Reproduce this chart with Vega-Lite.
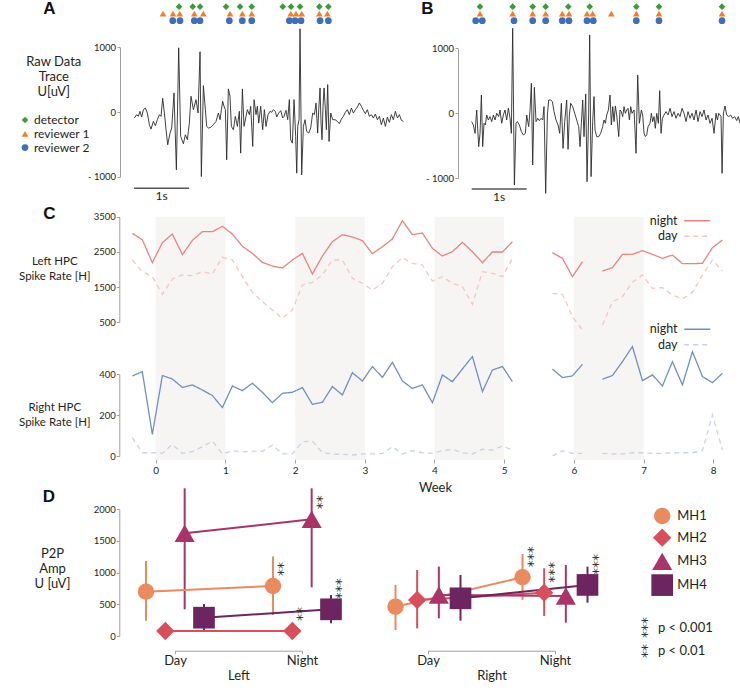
{
"$schema":"https://vega.github.io/schema/vega-lite/v6.json",
"width":740,"height":691,"autosize":{"type":"none"},"padding":0,"background":"#ffffff",
"config":{"font":"Lato","view":{"stroke":null},
 "axis":{"grid":false,"domainColor":"#a0a0a0","tickColor":"#a0a0a0","labelColor":"#231f20","titleColor":"#231f20","labelFont":"Lato","titleFont":"Lato","labelFontSize":9.5,"titleFontWeight":"normal","tickSize":3,"labelPadding":1.5},
 "legend":{"labelFont":"Lato","labelColor":"#231f20","padding":0,"titlePadding":0},
 "text":{"color":"#231f20","font":"Lato"}
},
"datasets":{
"bands":[{"a":0,"b":1},{"a":2,"b":3},{"a":4,"b":5},{"a":6,"b":7}],
"leftRate":[
{"w":-0.335,"v":3027,"p":"night","s":1},{"w":-0.192,"v":2847,"p":"night","s":1},{"w":-0.048,"v":2194,"p":"night","s":1},{"w":0.096,"v":2762,"p":"night","s":1},{"w":0.239,"v":3008,"p":"night","s":1},{"w":0.383,"v":2421,"p":"night","s":1},{"w":0.526,"v":2828,"p":"night","s":1},{"w":0.670,"v":3074,"p":"night","s":1},{"w":0.813,"v":3074,"p":"night","s":1},{"w":0.957,"v":3226,"p":"night","s":1},{"w":1.100,"v":3008,"p":"night","s":1},{"w":1.244,"v":2658,"p":"night","s":1},{"w":1.387,"v":2459,"p":"night","s":1},{"w":1.531,"v":2203,"p":"night","s":1},{"w":1.674,"v":2099,"p":"night","s":1},{"w":1.818,"v":2043,"p":"night","s":1},{"w":1.961,"v":2270,"p":"night","s":1},{"w":2.105,"v":2459,"p":"night","s":1},{"w":2.248,"v":1872,"p":"night","s":1},{"w":2.392,"v":2383,"p":"night","s":1},{"w":2.535,"v":2790,"p":"night","s":1},{"w":2.679,"v":2989,"p":"night","s":1},{"w":2.822,"v":2923,"p":"night","s":1},{"w":2.966,"v":2819,"p":"night","s":1},{"w":3.109,"v":2450,"p":"night","s":1},{"w":3.253,"v":2648,"p":"night","s":1},{"w":3.396,"v":2866,"p":"night","s":1},{"w":3.540,"v":3386,"p":"night","s":1},{"w":3.683,"v":2990,"p":"night","s":1},{"w":3.827,"v":3036,"p":"night","s":1},{"w":3.970,"v":2601,"p":"night","s":1},{"w":4.114,"v":2383,"p":"night","s":1},{"w":4.257,"v":2506,"p":"night","s":1},{"w":4.401,"v":2771,"p":"night","s":1},{"w":4.544,"v":2506,"p":"night","s":1},{"w":4.688,"v":2194,"p":"night","s":1},{"w":4.831,"v":2497,"p":"night","s":1},{"w":4.975,"v":2497,"p":"night","s":1},{"w":5.118,"v":2790,"p":"night","s":1},
{"w":5.692,"v":2478,"p":"night","s":2},{"w":5.836,"v":2317,"p":"night","s":2},{"w":5.979,"v":1796,"p":"night","s":2},{"w":6.123,"v":2222,"p":"night","s":2},
{"w":6.410,"v":1957,"p":"night","s":3},{"w":6.553,"v":2052,"p":"night","s":3},{"w":6.697,"v":2431,"p":"night","s":3},{"w":6.840,"v":2431,"p":"night","s":3},{"w":6.984,"v":2535,"p":"night","s":3},{"w":7.127,"v":2431,"p":"night","s":3},{"w":7.271,"v":2317,"p":"night","s":3},{"w":7.414,"v":2412,"p":"night","s":3},{"w":7.558,"v":2166,"p":"night","s":3},{"w":7.701,"v":2166,"p":"night","s":3},{"w":7.845,"v":2175,"p":"night","s":3},{"w":7.988,"v":2620,"p":"night","s":3},{"w":8.132,"v":2838,"p":"night","s":3},
{"w":-0.335,"v":2270,"p":"day","s":1},{"w":-0.192,"v":1938,"p":"day","s":1},{"w":-0.048,"v":1796,"p":"day","s":1},{"w":0.096,"v":1295,"p":"day","s":1},{"w":0.239,"v":1730,"p":"day","s":1},{"w":0.383,"v":1844,"p":"day","s":1},{"w":0.526,"v":1825,"p":"day","s":1},{"w":0.670,"v":1938,"p":"day","s":1},{"w":0.813,"v":1872,"p":"day","s":1},{"w":0.957,"v":2345,"p":"day","s":1},{"w":1.100,"v":2270,"p":"day","s":1},{"w":1.244,"v":1796,"p":"day","s":1},{"w":1.387,"v":1352,"p":"day","s":1},{"w":1.531,"v":1087,"p":"day","s":1},{"w":1.674,"v":850,"p":"day","s":1},{"w":1.818,"v":613,"p":"day","s":1},{"w":1.961,"v":850,"p":"day","s":1},{"w":2.105,"v":1560,"p":"day","s":1},{"w":2.248,"v":1636,"p":"day","s":1},{"w":2.392,"v":1844,"p":"day","s":1},{"w":2.535,"v":2270,"p":"day","s":1},{"w":2.679,"v":2270,"p":"day","s":1},{"w":2.822,"v":1749,"p":"day","s":1},{"w":2.966,"v":1607,"p":"day","s":1},{"w":3.109,"v":1418,"p":"day","s":1},{"w":3.253,"v":1607,"p":"day","s":1},{"w":3.396,"v":2081,"p":"day","s":1},{"w":3.540,"v":2336,"p":"day","s":1},{"w":3.683,"v":2175,"p":"day","s":1},{"w":3.827,"v":2128,"p":"day","s":1},{"w":3.970,"v":1673,"p":"day","s":1},{"w":4.114,"v":1796,"p":"day","s":1},{"w":4.257,"v":1607,"p":"day","s":1},{"w":4.401,"v":1513,"p":"day","s":1},{"w":4.544,"v":1011,"p":"day","s":1},{"w":4.688,"v":1938,"p":"day","s":1},{"w":4.831,"v":1891,"p":"day","s":1},{"w":4.975,"v":1796,"p":"day","s":1},{"w":5.118,"v":2317,"p":"day","s":1},
{"w":5.692,"v":1323,"p":"day","s":2},{"w":5.836,"v":1295,"p":"day","s":2},{"w":5.979,"v":661,"p":"day","s":2},{"w":6.123,"v":282,"p":"day","s":2},
{"w":6.410,"v":420,"p":"day","s":3},{"w":6.553,"v":1087,"p":"day","s":3},{"w":6.697,"v":1229,"p":"day","s":3},{"w":6.840,"v":1636,"p":"day","s":3},{"w":6.984,"v":1844,"p":"day","s":3},{"w":7.127,"v":1465,"p":"day","s":3},{"w":7.271,"v":1484,"p":"day","s":3},{"w":7.414,"v":1276,"p":"day","s":3},{"w":7.558,"v":1162,"p":"day","s":3},{"w":7.701,"v":1352,"p":"day","s":3},{"w":7.845,"v":1844,"p":"day","s":3},{"w":7.988,"v":2270,"p":"day","s":3},{"w":8.132,"v":1957,"p":"day","s":3}
],
"rightRate":[
{"w":-0.335,"v":392,"p":"night","s":1},{"w":-0.192,"v":413,"p":"night","s":1},{"w":-0.048,"v":106,"p":"night","s":1},{"w":0.096,"v":394,"p":"night","s":1},{"w":0.239,"v":377,"p":"night","s":1},{"w":0.383,"v":336,"p":"night","s":1},{"w":0.526,"v":348,"p":"night","s":1},{"w":0.670,"v":323,"p":"night","s":1},{"w":0.813,"v":296,"p":"night","s":1},{"w":0.957,"v":237,"p":"night","s":1},{"w":1.100,"v":343,"p":"night","s":1},{"w":1.244,"v":320,"p":"night","s":1},{"w":1.387,"v":356,"p":"night","s":1},{"w":1.531,"v":312,"p":"night","s":1},{"w":1.674,"v":261,"p":"night","s":1},{"w":1.818,"v":307,"p":"night","s":1},{"w":1.961,"v":312,"p":"night","s":1},{"w":2.105,"v":335,"p":"night","s":1},{"w":2.248,"v":253,"p":"night","s":1},{"w":2.392,"v":263,"p":"night","s":1},{"w":2.535,"v":340,"p":"night","s":1},{"w":2.679,"v":299,"p":"night","s":1},{"w":2.822,"v":408,"p":"night","s":1},{"w":2.966,"v":367,"p":"night","s":1},{"w":3.109,"v":438,"p":"night","s":1},{"w":3.253,"v":385,"p":"night","s":1},{"w":3.396,"v":459,"p":"night","s":1},{"w":3.540,"v":367,"p":"night","s":1},{"w":3.683,"v":331,"p":"night","s":1},{"w":3.827,"v":348,"p":"night","s":1},{"w":3.970,"v":261,"p":"night","s":1},{"w":4.114,"v":397,"p":"night","s":1},{"w":4.257,"v":364,"p":"night","s":1},{"w":4.401,"v":426,"p":"night","s":1},{"w":4.544,"v":487,"p":"night","s":1},{"w":4.688,"v":315,"p":"night","s":1},{"w":4.831,"v":421,"p":"night","s":1},{"w":4.975,"v":438,"p":"night","s":1},{"w":5.118,"v":364,"p":"night","s":1},
{"w":5.692,"v":426,"p":"night","s":2},{"w":5.836,"v":384,"p":"night","s":2},{"w":5.979,"v":392,"p":"night","s":2},{"w":6.123,"v":449,"p":"night","s":2},
{"w":6.410,"v":376,"p":"night","s":3},{"w":6.553,"v":394,"p":"night","s":3},{"w":6.697,"v":462,"p":"night","s":3},{"w":6.840,"v":536,"p":"night","s":3},{"w":6.984,"v":369,"p":"night","s":3},{"w":7.127,"v":397,"p":"night","s":3},{"w":7.271,"v":343,"p":"night","s":3},{"w":7.414,"v":462,"p":"night","s":3},{"w":7.558,"v":348,"p":"night","s":3},{"w":7.701,"v":511,"p":"night","s":3},{"w":7.845,"v":389,"p":"night","s":3},{"w":7.988,"v":359,"p":"night","s":3},{"w":8.132,"v":405,"p":"night","s":3},
{"w":-0.335,"v":90,"p":"day","s":1},{"w":-0.192,"v":16,"p":"day","s":1},{"w":-0.048,"v":16,"p":"day","s":1},{"w":0.096,"v":13,"p":"day","s":1},{"w":0.239,"v":57,"p":"day","s":1},{"w":0.383,"v":13,"p":"day","s":1},{"w":0.526,"v":21,"p":"day","s":1},{"w":0.670,"v":46,"p":"day","s":1},{"w":0.813,"v":73,"p":"day","s":1},{"w":0.957,"v":10,"p":"day","s":1},{"w":1.100,"v":26,"p":"day","s":1},{"w":1.244,"v":20,"p":"day","s":1},{"w":1.387,"v":24,"p":"day","s":1},{"w":1.531,"v":23,"p":"day","s":1},{"w":1.674,"v":54,"p":"day","s":1},{"w":1.818,"v":10,"p":"day","s":1},{"w":1.961,"v":10,"p":"day","s":1},{"w":2.105,"v":70,"p":"day","s":1},{"w":2.248,"v":73,"p":"day","s":1},{"w":2.392,"v":16,"p":"day","s":1},{"w":2.535,"v":10,"p":"day","s":1},{"w":2.679,"v":8,"p":"day","s":1},{"w":2.822,"v":5,"p":"day","s":1},{"w":2.966,"v":10,"p":"day","s":1},{"w":3.109,"v":10,"p":"day","s":1},{"w":3.253,"v":13,"p":"day","s":1},{"w":3.396,"v":46,"p":"day","s":1},{"w":3.540,"v":10,"p":"day","s":1},{"w":3.683,"v":26,"p":"day","s":1},{"w":3.827,"v":16,"p":"day","s":1},{"w":3.970,"v":13,"p":"day","s":1},{"w":4.114,"v":26,"p":"day","s":1},{"w":4.257,"v":33,"p":"day","s":1},{"w":4.401,"v":16,"p":"day","s":1},{"w":4.544,"v":10,"p":"day","s":1},{"w":4.688,"v":33,"p":"day","s":1},{"w":4.831,"v":29,"p":"day","s":1},{"w":4.975,"v":49,"p":"day","s":1},{"w":5.118,"v":29,"p":"day","s":1},
{"w":5.692,"v":0,"p":"day","s":2},{"w":5.836,"v":26,"p":"day","s":2},{"w":5.979,"v":13,"p":"day","s":2},{"w":6.123,"v":13,"p":"day","s":2},
{"w":6.410,"v":13,"p":"day","s":3},{"w":6.553,"v":10,"p":"day","s":3},{"w":6.697,"v":10,"p":"day","s":3},{"w":6.840,"v":16,"p":"day","s":3},{"w":6.984,"v":16,"p":"day","s":3},{"w":7.127,"v":13,"p":"day","s":3},{"w":7.271,"v":13,"p":"day","s":3},{"w":7.414,"v":16,"p":"day","s":3},{"w":7.558,"v":16,"p":"day","s":3},{"w":7.701,"v":16,"p":"day","s":3},{"w":7.845,"v":26,"p":"day","s":3},{"w":7.988,"v":201,"p":"day","s":3},{"w":8.132,"v":29,"p":"day","s":3}
],
"traceA":[
{"t":0.006,"v":-93},{"t":0.048,"v":-41},{"t":0.079,"v":-67},{"t":0.109,"v":10},{"t":0.139,"v":-78},{"t":0.170,"v":36},{"t":0.206,"v":62},{"t":0.242,"v":-16},{"t":0.279,"v":-196},{"t":0.309,"v":-264},{"t":0.352,"v":-145},{"t":0.388,"v":-212},{"t":0.424,"v":-119},{"t":0.461,"v":-41},{"t":0.491,"v":-67},{"t":0.521,"v":212},{"t":0.552,"v":-16},{"t":0.582,"v":-274},{"t":0.612,"v":-507},{"t":0.655,"v":-326},{"t":0.685,"v":-248},{"t":0.727,"v":295},{"t":0.770,"v":-894},{"t":0.812,"v":993},{"t":0.848,"v":-377},{"t":0.897,"v":-491},{"t":0.933,"v":-352},{"t":0.970,"v":-429},{"t":1.006,"v":-171},{"t":1.036,"v":243},{"t":1.079,"v":36},{"t":1.127,"v":191},{"t":1.164,"v":-16},{"t":1.200,"v":931},{"t":1.224,"v":-998},{"t":1.261,"v":408},{"t":1.297,"v":36},{"t":1.321,"v":-222},{"t":1.352,"v":-248},{"t":1.394,"v":-238},{"t":1.442,"v":-196},{"t":1.491,"v":-145},{"t":1.533,"v":-16},{"t":1.564,"v":-119},{"t":1.588,"v":36},{"t":1.612,"v":165},{"t":1.636,"v":88},{"t":1.661,"v":36},{"t":1.685,"v":-739},{"t":1.715,"v":357},{"t":1.745,"v":243},{"t":1.770,"v":-222},{"t":1.806,"v":-274},{"t":1.842,"v":-67},{"t":1.879,"v":-222},{"t":1.915,"v":10},{"t":1.939,"v":-636},{"t":1.970,"v":357},{"t":2.000,"v":-222},{"t":2.036,"v":-67},{"t":2.061,"v":36},{"t":2.097,"v":-41},{"t":2.121,"v":88},{"t":2.158,"v":-533},{"t":2.182,"v":191},{"t":2.218,"v":-41},{"t":2.242,"v":88},{"t":2.267,"v":-171},{"t":2.303,"v":88},{"t":2.339,"v":-274},{"t":2.370,"v":36},{"t":2.400,"v":-222},{"t":2.436,"v":-41},{"t":2.473,"v":10},{"t":2.503,"v":-5},{"t":2.533,"v":36},{"t":2.570,"v":10},{"t":2.594,"v":-78},{"t":2.630,"v":-16},{"t":2.667,"v":21},{"t":2.703,"v":-93},{"t":2.727,"v":-67},{"t":2.764,"v":26},{"t":2.794,"v":-119},{"t":2.824,"v":191},{"t":2.848,"v":-429},{"t":2.879,"v":-481},{"t":2.909,"v":191},{"t":2.939,"v":-377},{"t":2.958,"v":-946},{"t":2.976,"v":-222},{"t":3.000,"v":-119},{"t":3.018,"v":1287},{"t":3.048,"v":-972},{"t":3.079,"v":-222},{"t":3.109,"v":-119},{"t":3.139,"v":-300},{"t":3.176,"v":-326},{"t":3.212,"v":-248},{"t":3.248,"v":-16},{"t":3.279,"v":-41},{"t":3.309,"v":140},{"t":3.339,"v":-326},{"t":3.358,"v":36},{"t":3.382,"v":372},{"t":3.400,"v":-171},{"t":3.418,"v":-429},{"t":3.436,"v":88},{"t":3.455,"v":372},{"t":3.479,"v":36},{"t":3.497,"v":-274},{"t":3.521,"v":424},{"t":3.545,"v":-455},{"t":3.576,"v":-16},{"t":3.612,"v":-119},{"t":3.655,"v":-119},{"t":3.697,"v":-145},{"t":3.733,"v":-181},{"t":3.770,"v":-109},{"t":3.806,"v":-67},{"t":3.842,"v":-5},{"t":3.879,"v":36},{"t":3.915,"v":-41},{"t":3.952,"v":62},{"t":3.988,"v":-16},{"t":4.024,"v":36},{"t":4.061,"v":78},{"t":4.097,"v":140},{"t":4.133,"v":88},{"t":4.170,"v":26},{"t":4.206,"v":-26},{"t":4.242,"v":36},{"t":4.279,"v":-67},{"t":4.315,"v":-41},{"t":4.352,"v":-93},{"t":4.388,"v":-31},{"t":4.424,"v":-119},{"t":4.461,"v":-67},{"t":4.497,"v":-196},{"t":4.533,"v":-93},{"t":4.570,"v":-222},{"t":4.606,"v":-78},{"t":4.642,"v":-160},{"t":4.679,"v":-41},{"t":4.715,"v":-119},{"t":4.752,"v":10},{"t":4.788,"v":-93},{"t":4.824,"v":-41},{"t":4.861,"v":-129},{"t":4.897,"v":-145}
],
"traceB":[
{"t":0.000,"v":-128},{"t":0.030,"v":-180},{"t":0.061,"v":-308},{"t":0.091,"v":51},{"t":0.127,"v":-513},{"t":0.152,"v":-308},{"t":0.176,"v":282},{"t":0.200,"v":-513},{"t":0.224,"v":-154},{"t":0.248,"v":-180},{"t":0.273,"v":-26},{"t":0.303,"v":-103},{"t":0.333,"v":-51},{"t":0.364,"v":-128},{"t":0.394,"v":-26},{"t":0.424,"v":-103},{"t":0.455,"v":0},{"t":0.491,"v":-51},{"t":0.515,"v":51},{"t":0.545,"v":-154},{"t":0.576,"v":-26},{"t":0.606,"v":51},{"t":0.636,"v":-103},{"t":0.667,"v":77},{"t":0.697,"v":-77},{"t":0.721,"v":-308},{"t":0.745,"v":1308},{"t":0.776,"v":-1103},{"t":0.806,"v":-154},{"t":0.830,"v":-128},{"t":0.867,"v":-180},{"t":0.903,"v":-282},{"t":0.939,"v":-333},{"t":0.976,"v":-308},{"t":1.000,"v":-26},{"t":1.036,"v":-205},{"t":1.061,"v":51},{"t":1.085,"v":462},{"t":1.109,"v":-795},{"t":1.139,"v":400},{"t":1.170,"v":-128},{"t":1.200,"v":-77},{"t":1.230,"v":-113},{"t":1.261,"v":-77},{"t":1.291,"v":-103},{"t":1.315,"v":103},{"t":1.345,"v":-1231},{"t":1.376,"v":-26},{"t":1.400,"v":205},{"t":1.436,"v":205},{"t":1.467,"v":180},{"t":1.497,"v":26},{"t":1.533,"v":-103},{"t":1.570,"v":-180},{"t":1.600,"v":-308},{"t":1.630,"v":154},{"t":1.661,"v":-539},{"t":1.691,"v":-128},{"t":1.727,"v":205},{"t":1.752,"v":-554},{"t":1.776,"v":-26},{"t":1.800,"v":154},{"t":1.836,"v":103},{"t":1.873,"v":0},{"t":1.909,"v":-103},{"t":1.945,"v":-205},{"t":1.970,"v":-513},{"t":1.994,"v":-154},{"t":2.018,"v":205},{"t":2.042,"v":-359},{"t":2.073,"v":298},{"t":2.097,"v":-1052},{"t":2.127,"v":0},{"t":2.145,"v":1206},{"t":2.170,"v":-975},{"t":2.200,"v":-128},{"t":2.224,"v":257},{"t":2.242,"v":-257},{"t":2.273,"v":-359},{"t":2.309,"v":-359},{"t":2.345,"v":-308},{"t":2.382,"v":-205},{"t":2.406,"v":-103},{"t":2.430,"v":-154},{"t":2.455,"v":-26},{"t":2.485,"v":51},{"t":2.515,"v":282},{"t":2.539,"v":-180},{"t":2.564,"v":103},{"t":2.588,"v":-128},{"t":2.612,"v":113},{"t":2.636,"v":-26},{"t":2.673,"v":-359},{"t":2.697,"v":51},{"t":2.721,"v":26},{"t":2.745,"v":-51},{"t":2.770,"v":103},{"t":2.794,"v":0},{"t":2.818,"v":51},{"t":2.842,"v":77},{"t":2.867,"v":-103},{"t":2.891,"v":103},{"t":2.915,"v":0},{"t":2.952,"v":51},{"t":2.988,"v":-616},{"t":3.018,"v":590},{"t":3.048,"v":-154},{"t":3.085,"v":51},{"t":3.109,"v":-26},{"t":3.133,"v":-308},{"t":3.158,"v":-359},{"t":3.182,"v":-333},{"t":3.206,"v":-205},{"t":3.242,"v":-154},{"t":3.267,"v":0},{"t":3.291,"v":-128},{"t":3.315,"v":-51},{"t":3.339,"v":-231},{"t":3.364,"v":0},{"t":3.394,"v":-154},{"t":3.418,"v":349},{"t":3.442,"v":-308},{"t":3.467,"v":-77},{"t":3.497,"v":-26},{"t":3.533,"v":26},{"t":3.570,"v":-26},{"t":3.606,"v":77},{"t":3.642,"v":-51},{"t":3.679,"v":26},{"t":3.715,"v":-77},{"t":3.752,"v":0},{"t":3.788,"v":-51},{"t":3.824,"v":77},{"t":3.861,"v":0},{"t":3.897,"v":-128},{"t":3.933,"v":26},{"t":3.970,"v":-77},{"t":4.006,"v":0},{"t":4.042,"v":-103},{"t":4.079,"v":51},{"t":4.115,"v":-128},{"t":4.152,"v":26},{"t":4.188,"v":-51},{"t":4.224,"v":51},{"t":4.261,"v":-103},{"t":4.297,"v":-26},{"t":4.333,"v":-154},{"t":4.370,"v":-77},{"t":4.406,"v":-308},{"t":4.442,"v":0},{"t":4.467,"v":-103},{"t":4.491,"v":0},{"t":4.515,"v":-26},{"t":4.533,"v":-51},{"t":4.552,"v":-923},{"t":4.576,"v":0},{"t":4.606,"v":113},{"t":4.636,"v":-26},{"t":4.673,"v":-51},{"t":4.709,"v":-26},{"t":4.745,"v":-77},{"t":4.782,"v":-51},{"t":4.818,"v":-113},{"t":4.848,"v":-51},{"t":4.879,"v":-154}
],
"markA":[
{"t":0.818,"r":"detector"},{"t":1.067,"r":"detector"},{"t":1.2,"r":"detector"},{"t":1.673,"r":"detector"},{"t":1.927,"r":"detector"},{"t":2.14,"r":"detector"},{"t":2.704,"r":"detector"},{"t":2.855,"r":"detector"},{"t":3.018,"r":"detector"},{"t":3.369,"r":"detector"},{"t":3.533,"r":"detector"},
{"t":0.527,"r":"reviewer 1"},{"t":0.709,"r":"reviewer 1"},{"t":0.831,"r":"reviewer 1"},{"t":1.096,"r":"reviewer 1"},{"t":1.26,"r":"reviewer 1"},{"t":1.745,"r":"reviewer 1"},{"t":1.969,"r":"reviewer 1"},{"t":2.14,"r":"reviewer 1"},{"t":2.849,"r":"reviewer 1"},{"t":2.945,"r":"reviewer 1"},{"t":3.049,"r":"reviewer 1"},{"t":3.369,"r":"reviewer 1"},{"t":3.515,"r":"reviewer 1"},
{"t":0.704,"r":"reviewer 2"},{"t":0.836,"r":"reviewer 2"},{"t":1.096,"r":"reviewer 2"},{"t":1.2,"r":"reviewer 2"},{"t":1.733,"r":"reviewer 2"},{"t":1.969,"r":"reviewer 2"},{"t":2.14,"r":"reviewer 2"},{"t":2.824,"r":"reviewer 2"},{"t":2.927,"r":"reviewer 2"},{"t":3.036,"r":"reviewer 2"},{"t":3.382,"r":"reviewer 2"},{"t":3.533,"r":"reviewer 2"}
],
"markB":[
{"t":0.151,"r":"detector"},{"t":0.745,"r":"detector"},{"t":1.109,"r":"detector"},{"t":1.345,"r":"detector"},{"t":1.756,"r":"detector"},{"t":2.145,"r":"detector"},{"t":2.993,"r":"detector"},{"t":3.405,"r":"detector"},{"t":4.551,"r":"detector"},
{"t":0.151,"r":"reviewer 1"},{"t":0.745,"r":"reviewer 1"},{"t":1.109,"r":"reviewer 1"},{"t":1.345,"r":"reviewer 1"},{"t":1.647,"r":"reviewer 1"},{"t":1.769,"r":"reviewer 1"},{"t":2.096,"r":"reviewer 1"},{"t":2.2,"r":"reviewer 1"},{"t":2.538,"r":"reviewer 1"},{"t":2.993,"r":"reviewer 1"},{"t":3.405,"r":"reviewer 1"},{"t":4.551,"r":"reviewer 1"},
{"t":0.073,"r":"reviewer 2"},{"t":0.193,"r":"reviewer 2"},{"t":0.769,"r":"reviewer 2"},{"t":1.109,"r":"reviewer 2"},{"t":1.345,"r":"reviewer 2"},{"t":1.647,"r":"reviewer 2"},{"t":1.769,"r":"reviewer 2"},{"t":2.096,"r":"reviewer 2"},{"t":2.211,"r":"reviewer 2"},{"t":2.993,"r":"reviewer 2"},{"t":3.405,"r":"reviewer 2"},{"t":4.551,"r":"reviewer 2"}
],
"amp":[
{"side":"Left","cond":"Day","mh":"MH1","m":700,"lo":242,"hi":1184,"sig":""},
{"side":"Left","cond":"Night","mh":"MH1","m":789,"lo":332,"hi":1253,"sig":"**"},
{"side":"Left","cond":"Day","mh":"MH2","m":79,"lo":40,"hi":120,"sig":""},
{"side":"Left","cond":"Night","mh":"MH2","m":79,"lo":40,"hi":120,"sig":"**"},
{"side":"Left","cond":"Day","mh":"MH3","m":1621,"lo":421,"hi":2331,"sig":""},
{"side":"Left","cond":"Night","mh":"MH3","m":1842,"lo":768,"hi":2331,"sig":"**"},
{"side":"Left","cond":"Day","mh":"MH4","m":289,"lo":68,"hi":505,"sig":""},
{"side":"Left","cond":"Night","mh":"MH4","m":421,"lo":200,"hi":647,"sig":"***"},
{"side":"Right","cond":"Day","mh":"MH1","m":463,"lo":95,"hi":806,"sig":""},
{"side":"Right","cond":"Night","mh":"MH1","m":927,"lo":569,"hi":1295,"sig":"***"},
{"side":"Right","cond":"Day","mh":"MH2","m":569,"lo":121,"hi":1043,"sig":""},
{"side":"Right","cond":"Night","mh":"MH2","m":684,"lo":316,"hi":1069,"sig":"***"},
{"side":"Right","cond":"Day","mh":"MH3","m":648,"lo":279,"hi":1095,"sig":""},
{"side":"Right","cond":"Night","mh":"MH3","m":632,"lo":210,"hi":1122,"sig":""},
{"side":"Right","cond":"Day","mh":"MH4","m":595,"lo":242,"hi":964,"sig":""},
{"side":"Right","cond":"Night","mh":"MH4","m":806,"lo":526,"hi":1095,"sig":"***"}
],
"pleg":[{"s":"***","p":"p < 0.001"},{"s":"**","p":"p < 0.01"}]
},
"layer":[
{"data":{"name":"bands"},"mark":{"type":"rect","color":"#f7f5f3"},
 "encoding":{"x":{"field":"a","type":"quantitative","scale":{"domain":[-0.5,8.2],"range":[120.85,727.2],"nice":false,"zero":false},"axis":null},"x2":{"field":"b"},
 "y":{"datum":0,"type":"quantitative","scale":{"domain":[0,1],"range":[460,216.7],"nice":false,"zero":false},"axis":null},"y2":{"datum":1}}},
{"data":{"name":"leftRate"},"mark":{"type":"line","strokeWidth":1.3},
 "encoding":{"x":{"field":"w","type":"quantitative","scale":{"domain":[-0.5,8.2],"range":[120.85,727.2],"nice":false,"zero":false},
   "axis":{"orient":"bottom","offset":-232,"domain":false,"values":[0,1,2,3,4,5,6,7,8],"tickSize":4,"labelPadding":2,"labelFontSize":10,"title":"Week","titleFontSize":13,"titleX":435,"titleY":28,"titleBaseline":"middle","titleAlign":"center"}},
 "y":{"field":"v","type":"quantitative","scale":{"domain":[500,3500],"range":[322.3,216.7],"nice":false,"zero":false},
   "axis":{"orient":"left","offset":-119.3,"values":[500,1500,2500,3500],"format":"d","labelPadding":1,"title":["Left HPC","Spike Rate [H]"],"titleAngle":0,"titleAlign":"center","titleBaseline":"middle","titleX":-65,"titleY":261,"titleFontSize":11.5,"titleLineHeight":15}},
 "color":{"field":"p","type":"nominal","scale":{"domain":["night","day"],"range":["#e8837d","#f5c5c2"]},
   "legend":{"title":null,"orient":"none","legendX":691,"legendY":214.5,"direction":"vertical","symbolType":"M-2.6,0H2.6","symbolSize":100,"symbolStrokeWidth":1.3,"labelAlign":"right","labelOffset":-26,"labelFontSize":12.5,"rowPadding":2.5}},
 "strokeDash":{"field":"p","type":"nominal","scale":{"domain":["night","day"],"range":[[1,0],[5,4]]},
   "legend":{"title":null,"orient":"none","legendX":691,"legendY":214.5,"direction":"vertical","symbolType":"M-2.6,0H2.6","symbolSize":100,"symbolStrokeWidth":1.3,"labelAlign":"right","labelOffset":-26,"labelFontSize":12.5,"rowPadding":2.5}},
 "detail":{"field":"s"}}},
{"data":{"name":"rightRate"},"mark":{"type":"line","strokeWidth":1.3},
 "encoding":{"x":{"field":"w","type":"quantitative","scale":{"domain":[-0.5,8.2],"range":[120.85,727.2],"nice":false,"zero":false},"axis":null},
 "y":{"field":"v","type":"quantitative","scale":{"domain":[0,400],"range":[456,374.3],"nice":false,"zero":false},
   "axis":{"orient":"left","offset":-119.3,"values":[0,200,400],"format":"d","labelPadding":1,"title":["Right HPC","Spike Rate [H]"],"titleAngle":0,"titleAlign":"center","titleBaseline":"middle","titleX":-65,"titleY":407.3,"titleFontSize":11.5,"titleLineHeight":15}},
 "color":{"field":"p","type":"nominal","scale":{"domain":["night","day"],"range":["#6f8fc4","#c6d3e8"]},
   "legend":{"title":null,"orient":"none","legendX":691,"legendY":323,"direction":"vertical","symbolType":"M-2.6,0H2.6","symbolSize":100,"symbolStrokeWidth":1.3,"labelAlign":"right","labelOffset":-26,"labelFontSize":12.5,"rowPadding":2.5}},
 "strokeDash":{"field":"p","type":"nominal","scale":{"domain":["night","day"],"range":[[1,0],[5,4]]},
   "legend":{"title":null,"orient":"none","legendX":691,"legendY":323,"direction":"vertical","symbolType":"M-2.6,0H2.6","symbolSize":100,"symbolStrokeWidth":1.3,"labelAlign":"right","labelOffset":-26,"labelFontSize":12.5,"rowPadding":2.5}},
 "detail":{"field":"s"}}},
{"data":{"values":[{}]},"mark":{"type":"text","text":"C","font":"Liberation Sans","fontWeight":"bold","fontSize":17,"align":"center","baseline":"middle","color":"#111111"},
 "encoding":{"x":{"datum":-1.527,"type":"quantitative","scale":{"domain":[-0.5,8.2],"range":[120.85,727.2],"nice":false,"zero":false},"axis":null},
 "y":{"datum":3577,"type":"quantitative","scale":{"domain":[500,3500],"range":[322.3,216.7],"nice":false,"zero":false},"axis":null}}},

{"data":{"name":"traceA"},"mark":{"type":"line","strokeWidth":0.9,"color":"#2b2b2b"},
 "encoding":{"x":{"field":"t","type":"quantitative","scale":{"domain":[-0.255,4.93],"range":[120,405.2],"nice":false,"zero":false},"axis":null},
 "y":{"field":"v","type":"quantitative","scale":{"domain":[-1000,1000],"range":[176.7,47.3],"nice":false,"zero":false},
   "axis":{"orient":"left","offset":-120,"values":[-1000,0,1000],"labelExpr":"datum.value < 0 ? '- ' + format(-datum.value, 'd') : format(datum.value, 'd')","title":["Raw Data","Trace","U[uV]"],"titleAngle":0,"titleAlign":"center","titleBaseline":"middle","titleX":-66.7,"titleY":61,"titleFontSize":13,"titleLineHeight":15}}}},
{"data":{"values":[{}]},"mark":{"type":"rule","strokeWidth":1.5,"color":"#555555"},
 "encoding":{"x":{"datum":0,"type":"quantitative","scale":{"domain":[-0.255,4.93],"range":[120,405.2],"nice":false,"zero":false},"axis":null},"x2":{"datum":1},
 "y":{"datum":-1180,"type":"quantitative","scale":{"domain":[-1000,1000],"range":[176.7,47.3],"nice":false,"zero":false},"axis":null}}},
{"data":{"values":[{}]},"mark":{"type":"text","text":"1s","fontSize":12,"align":"center","baseline":"middle"},
 "encoding":{"x":{"datum":0.5,"type":"quantitative","scale":{"domain":[-0.255,4.93],"range":[120,405.2],"nice":false,"zero":false},"axis":null},
 "y":{"datum":-1300,"type":"quantitative","scale":{"domain":[-1000,1000],"range":[176.7,47.3],"nice":false,"zero":false},"axis":null}}},
{"data":{"name":"markA"},"mark":{"type":"point","filled":true,"opacity":1,"size":45},
 "encoding":{"x":{"field":"t","type":"quantitative","scale":{"domain":[-0.255,4.93],"range":[120,405.2],"nice":false,"zero":false},"axis":null},
 "y":{"field":"r","type":"nominal","scale":{"type":"point","domain":["detector","reviewer 1","reviewer 2"],"range":[6.7,20.7],"padding":0},"axis":null},
 "shape":{"field":"r","type":"nominal","scale":{"domain":["detector","reviewer 1","reviewer 2"],"range":["diamond","triangle-up","circle"]},
   "legend":{"title":null,"orient":"none","legendX":19,"legendY":114,"direction":"vertical","labelFontSize":12,"labelOffset":3,"rowPadding":1.8,"symbolSize":45}},
 "color":{"field":"r","type":"nominal","scale":{"domain":["detector","reviewer 1","reviewer 2"],"range":["#3c9b3c","#ee7f2d","#3f6fb6"]},
   "legend":{"title":null,"orient":"none","legendX":19,"legendY":114,"direction":"vertical","labelFontSize":12,"labelOffset":3,"rowPadding":1.8,"symbolSize":45}}}},
{"data":{"values":[{}]},"mark":{"type":"text","text":"A","font":"Liberation Sans","fontWeight":"bold","fontSize":17,"align":"center","baseline":"middle","color":"#111111"},
 "encoding":{"x":{"datum":-1.54,"type":"quantitative","scale":{"domain":[-0.255,4.93],"range":[120,405.2],"nice":false,"zero":false},"axis":null},
 "y":{"datum":1587,"type":"quantitative","scale":{"domain":[-1000,1000],"range":[176.7,47.3],"nice":false,"zero":false},"axis":null}}},

{"data":{"name":"traceB"},"mark":{"type":"line","strokeWidth":0.9,"color":"#2b2b2b"},
 "encoding":{"x":{"field":"t","type":"quantitative","scale":{"domain":[-0.249,4.878],"range":[458,740],"nice":false,"zero":false},"axis":null},
 "y":{"field":"v","type":"quantitative","scale":{"domain":[-1000,1000],"range":[178.3,48.3],"nice":false,"zero":false},
   "axis":{"orient":"left","offset":-458,"values":[-1000,0,1000],"labelExpr":"datum.value < 0 ? '- ' + format(-datum.value, 'd') : format(datum.value, 'd')","title":null}}}},
{"data":{"values":[{}]},"mark":{"type":"rule","strokeWidth":1.5,"color":"#555555"},
 "encoding":{"x":{"datum":0,"type":"quantitative","scale":{"domain":[-0.249,4.878],"range":[458,740],"nice":false,"zero":false},"axis":null},"x2":{"datum":1},
 "y":{"datum":-1165,"type":"quantitative","scale":{"domain":[-1000,1000],"range":[178.3,48.3],"nice":false,"zero":false},"axis":null}}},
{"data":{"values":[{}]},"mark":{"type":"text","text":"1s","fontSize":12,"align":"center","baseline":"middle"},
 "encoding":{"x":{"datum":0.5,"type":"quantitative","scale":{"domain":[-0.249,4.878],"range":[458,740],"nice":false,"zero":false},"axis":null},
 "y":{"datum":-1283,"type":"quantitative","scale":{"domain":[-1000,1000],"range":[178.3,48.3],"nice":false,"zero":false},"axis":null}}},
{"data":{"name":"markB"},"mark":{"type":"point","filled":true,"opacity":1,"size":45},
 "encoding":{"x":{"field":"t","type":"quantitative","scale":{"domain":[-0.249,4.878],"range":[458,740],"nice":false,"zero":false},"axis":null},
 "y":{"field":"r","type":"nominal","scale":{"type":"point","domain":["detector","reviewer 1","reviewer 2"],"range":[6.7,20.7],"padding":0},"axis":null},
 "shape":{"field":"r","type":"nominal","scale":{"domain":["detector","reviewer 1","reviewer 2"],"range":["diamond","triangle-up","circle"]},"legend":null},
 "color":{"field":"r","type":"nominal","scale":{"domain":["detector","reviewer 1","reviewer 2"],"range":["#3c9b3c","#ee7f2d","#3f6fb6"]},"legend":null}}},
{"data":{"values":[{}]},"mark":{"type":"text","text":"B","font":"Liberation Sans","fontWeight":"bold","fontSize":17,"align":"center","baseline":"middle","color":"#111111"},
 "encoding":{"x":{"datum":-0.807,"type":"quantitative","scale":{"domain":[-0.249,4.878],"range":[458,740],"nice":false,"zero":false},"axis":null},
 "y":{"datum":1600,"type":"quantitative","scale":{"domain":[-1000,1000],"range":[178.3,48.3],"nice":false,"zero":false},"axis":null}}},

{"data":{"name":"amp"},"transform":[{"filter":"datum.side == 'Left'"}],"mark":{"type":"rule","strokeWidth":2},
 "encoding":{"x":{"field":"cond","type":"nominal","scale":{"type":"point","domain":["Day","Night"],"range":[175,302],"padding":0},"axis":null},
 "xOffset":{"field":"mh","type":"nominal","scale":{"type":"point","domain":["MH1","MH2","MH3","MH4"],"range":[-29,29],"padding":0}},
 "y":{"field":"lo","type":"quantitative","scale":{"domain":[0,2000],"range":[636,509.3],"nice":false,"zero":false},"axis":null},"y2":{"field":"hi"},
 "color":{"field":"mh","type":"nominal","scale":{"domain":["MH1","MH2","MH3","MH4"],"range":["#ea8a5f","#d64f5b","#a8346a","#6c2561"]},"legend":null}}},
{"data":{"name":"amp"},"transform":[{"filter":"datum.side == 'Left'"}],"mark":{"type":"line","strokeWidth":2},
 "encoding":{"x":{"field":"cond","type":"nominal","scale":{"type":"point","domain":["Day","Night"],"range":[175,302],"padding":0},"axis":null},
 "xOffset":{"field":"mh","type":"nominal","scale":{"type":"point","domain":["MH1","MH2","MH3","MH4"],"range":[-29,29],"padding":0}},
 "y":{"field":"m","type":"quantitative","scale":{"domain":[0,2000],"range":[636,509.3],"nice":false,"zero":false},"axis":null},
 "color":{"field":"mh","type":"nominal","scale":{"domain":["MH1","MH2","MH3","MH4"],"range":["#ea8a5f","#d64f5b","#a8346a","#6c2561"]},"legend":null}}},
{"data":{"name":"amp"},"transform":[{"filter":"datum.side == 'Left'"}],"mark":{"type":"point","filled":true,"opacity":1},
 "encoding":{"x":{"field":"cond","type":"nominal","scale":{"type":"point","domain":["Day","Night"],"range":[175,302],"padding":0},
   "axis":{"orient":"bottom","offset":-40.3,"labelAngle":0,"labelFontSize":13,"labelPadding":1,"tickSize":3,"title":"Left","titleFontSize":13,"titleY":24.5,"titleBaseline":"middle"}},
 "xOffset":{"field":"mh","type":"nominal","scale":{"type":"point","domain":["MH1","MH2","MH3","MH4"],"range":[-29,29],"padding":0}},
 "y":{"field":"m","type":"quantitative","scale":{"domain":[0,2000],"range":[636,509.3],"nice":false,"zero":false},
   "axis":{"orient":"left","offset":-119.3,"values":[0,500,1000,1500,2000],"format":"d","labelPadding":1,"title":["P2P","Amp","U [uV]"],"titleAngle":0,"titleAlign":"center","titleBaseline":"middle","titleX":-67.3,"titleY":553.5,"titleFontSize":13,"titleLineHeight":15}},
 "color":{"field":"mh","type":"nominal","scale":{"domain":["MH1","MH2","MH3","MH4"],"range":["#ea8a5f","#d64f5b","#a8346a","#6c2561"]},
   "legend":{"title":null,"orient":"none","legendX":650.2,"legendY":507,"direction":"vertical","labelFontSize":13,"labelOffset":3,"rowPadding":2.7}},
 "shape":{"field":"mh","type":"nominal","scale":{"domain":["MH1","MH2","MH3","MH4"],"range":["circle","diamond","triangle-up","square"]},
   "legend":{"title":null,"orient":"none","legendX":650.2,"legendY":507,"direction":"vertical","labelFontSize":13,"labelOffset":3,"rowPadding":2.7}},
 "size":{"field":"mh","type":"nominal","scale":{"domain":["MH1","MH2","MH3","MH4"],"range":[270,470,300,300]},
   "legend":{"title":null,"orient":"none","legendX":650.2,"legendY":507,"direction":"vertical","labelFontSize":13,"labelOffset":3,"rowPadding":2.7}}}},
{"data":{"name":"amp"},"transform":[{"filter":"datum.side == 'Left' && datum.sig != ''"}],"mark":{"type":"text","angle":90,"align":"right","baseline":"middle","dx":-10,"dy":-5,"fontSize":14,"font":"DejaVu Sans","color":"#333333"},
 "encoding":{"x":{"field":"cond","type":"nominal","scale":{"type":"point","domain":["Day","Night"],"range":[175,302],"padding":0},"axis":null},
 "xOffset":{"field":"mh","type":"nominal","scale":{"type":"point","domain":["MH1","MH2","MH3","MH4"],"range":[-29,29],"padding":0}},
 "y":{"field":"m","type":"quantitative","scale":{"domain":[0,2000],"range":[636,509.3],"nice":false,"zero":false},"axis":null},
 "text":{"field":"sig"}}},

{"data":{"name":"amp"},"transform":[{"filter":"datum.side == 'Right'"}],"mark":{"type":"rule","strokeWidth":2},
 "encoding":{"x":{"field":"cond","type":"nominal","scale":{"type":"point","domain":["Day","Night"],"range":[428,555],"padding":0},"axis":null},
 "xOffset":{"field":"mh","type":"nominal","scale":{"type":"point","domain":["MH1","MH2","MH3","MH4"],"range":[-32.5,32.5],"padding":0}},
 "y":{"field":"lo","type":"quantitative","scale":{"domain":[0,2000],"range":[636,509.3],"nice":false,"zero":false},"axis":null},"y2":{"field":"hi"},
 "color":{"field":"mh","type":"nominal","scale":{"domain":["MH1","MH2","MH3","MH4"],"range":["#ea8a5f","#d64f5b","#a8346a","#6c2561"]},"legend":null}}},
{"data":{"name":"amp"},"transform":[{"filter":"datum.side == 'Right'"}],"mark":{"type":"line","strokeWidth":2},
 "encoding":{"x":{"field":"cond","type":"nominal","scale":{"type":"point","domain":["Day","Night"],"range":[428,555],"padding":0},"axis":null},
 "xOffset":{"field":"mh","type":"nominal","scale":{"type":"point","domain":["MH1","MH2","MH3","MH4"],"range":[-32.5,32.5],"padding":0}},
 "y":{"field":"m","type":"quantitative","scale":{"domain":[0,2000],"range":[636,509.3],"nice":false,"zero":false},"axis":null},
 "color":{"field":"mh","type":"nominal","scale":{"domain":["MH1","MH2","MH3","MH4"],"range":["#ea8a5f","#d64f5b","#a8346a","#6c2561"]},"legend":null}}},
{"data":{"name":"amp"},"transform":[{"filter":"datum.side == 'Right'"}],"mark":{"type":"point","filled":true,"opacity":1},
 "encoding":{"x":{"field":"cond","type":"nominal","scale":{"type":"point","domain":["Day","Night"],"range":[428,555],"padding":0},
   "axis":{"orient":"bottom","offset":-40.3,"labelAngle":0,"labelFontSize":13,"labelPadding":1,"tickSize":3,"title":"Right","titleFontSize":13,"titleY":24.5,"titleBaseline":"middle"}},
 "xOffset":{"field":"mh","type":"nominal","scale":{"type":"point","domain":["MH1","MH2","MH3","MH4"],"range":[-32.5,32.5],"padding":0}},
 "y":{"field":"m","type":"quantitative","scale":{"domain":[0,2000],"range":[636,509.3],"nice":false,"zero":false},"axis":null},
 "color":{"field":"mh","type":"nominal","scale":{"domain":["MH1","MH2","MH3","MH4"],"range":["#ea8a5f","#d64f5b","#a8346a","#6c2561"]},"legend":null},
 "shape":{"field":"mh","type":"nominal","scale":{"domain":["MH1","MH2","MH3","MH4"],"range":["circle","diamond","triangle-up","square"]},"legend":null},
 "size":{"field":"mh","type":"nominal","scale":{"domain":["MH1","MH2","MH3","MH4"],"range":[270,470,300,300]},"legend":null}}},
{"data":{"name":"amp"},"transform":[{"filter":"datum.side == 'Right' && datum.sig != ''"}],"mark":{"type":"text","angle":90,"align":"right","baseline":"middle","dx":-10,"dy":-5,"fontSize":14,"font":"DejaVu Sans","color":"#333333"},
 "encoding":{"x":{"field":"cond","type":"nominal","scale":{"type":"point","domain":["Day","Night"],"range":[428,555],"padding":0},"axis":null},
 "xOffset":{"field":"mh","type":"nominal","scale":{"type":"point","domain":["MH1","MH2","MH3","MH4"],"range":[-32.5,32.5],"padding":0}},
 "y":{"field":"m","type":"quantitative","scale":{"domain":[0,2000],"range":[636,509.3],"nice":false,"zero":false},"axis":null},
 "text":{"field":"sig"}}},
{"data":{"values":[{}]},"mark":{"type":"text","text":"D","font":"Liberation Sans","fontWeight":"bold","fontSize":17,"align":"center","baseline":"middle","color":"#111111"},
 "encoding":{"x":{"datum":-1.531,"type":"quantitative","scale":{"domain":[-0.5,8.2],"range":[120.85,727.2],"nice":false,"zero":false},"axis":null},
 "y":{"datum":2194,"type":"quantitative","scale":{"domain":[0,2000],"range":[636,509.3],"nice":false,"zero":false},"axis":null}}},
{"data":{"name":"pleg"},"mark":{"type":"text","angle":90,"align":"center","baseline":"middle","fontSize":14,"font":"DejaVu Sans","color":"#333333"},
 "encoding":{"x":{"datum":0,"type":"quantitative","scale":{"domain":[0,1],"range":[642,658],"nice":false,"zero":false},"axis":null},
 "y":{"field":"p","type":"nominal","scale":{"type":"point","domain":["p < 0.001","p < 0.01"],"range":[627.5,651],"padding":0},"axis":null},
 "text":{"field":"s"}}},
{"data":{"name":"pleg"},"mark":{"type":"text","align":"left","baseline":"middle","fontSize":13},
 "encoding":{"x":{"datum":1,"type":"quantitative","scale":{"domain":[0,1],"range":[642,658],"nice":false,"zero":false},"axis":null},
 "y":{"field":"p","type":"nominal","scale":{"type":"point","domain":["p < 0.001","p < 0.01"],"range":[627.5,651],"padding":0},"axis":null},
 "text":{"field":"p"}}}
],
"resolve":{"scale":{"x":"independent","y":"independent","xOffset":"independent","color":"independent","shape":"independent","size":"independent","strokeDash":"independent"}}
}
